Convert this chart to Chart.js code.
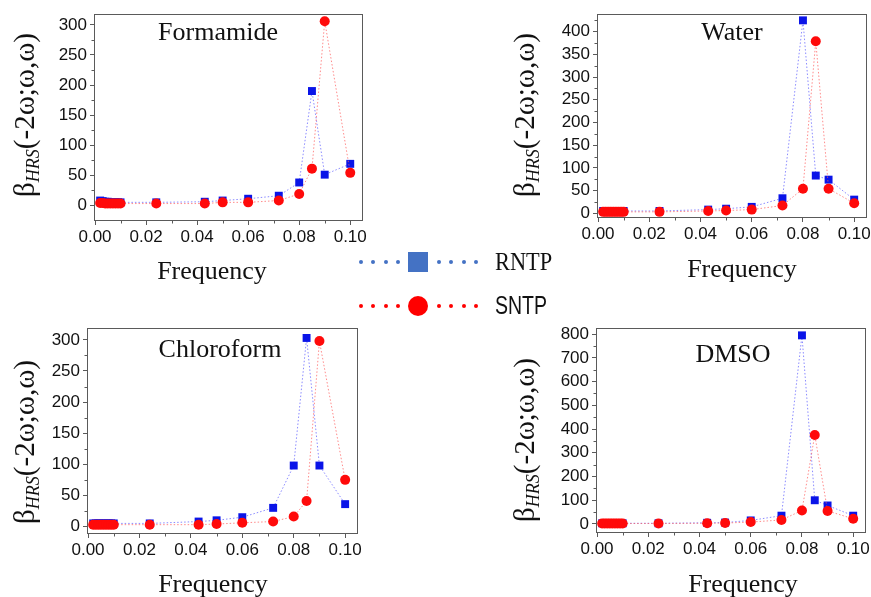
<!DOCTYPE html>
<html>
<head>
<meta charset="utf-8">
<title>Hyper-Rayleigh scattering vs frequency</title>
<script src="https://cdn.jsdelivr.net/npm/chart.js@4.4.1/dist/chart.umd.min.js"></script>
<style>
  body { margin: 0; background: #fff; width: 871px; height: 597px; position: relative; overflow: hidden; }
  canvas { position: absolute; }
  .row { position: absolute; left: 359px; height: 22px; display: flex; align-items: center; z-index: 2; }
  .dot { width: 4px; height: 4px; border-radius: 50%; margin-right: 8.3px; }
  .mark { width: 20px; height: 20px; margin-right: 9px; }
  .label { margin-left: 9px; color: #111; transform-origin: left center; white-space: nowrap; }
</style>
</head>
<body>
<canvas id="formamide" width="435" height="300" style="left:0;top:0"></canvas>
<canvas id="water" width="470" height="300" style="left:435px;top:0"></canvas>
<canvas id="chloroform" width="435" height="297" style="left:0;top:300px"></canvas>
<canvas id="dmso" width="470" height="297" style="left:435px;top:300px"></canvas>

<div class="row" style="top:251px">
  <span class="dot" style="background:#4472c4"></span><span class="dot" style="background:#4472c4"></span>
  <span class="dot" style="background:#4472c4"></span><span class="dot" style="background:#4472c4"></span>
  <span class="mark" style="background:#4472c4"></span>
  <span class="dot" style="background:#4472c4"></span><span class="dot" style="background:#4472c4"></span>
  <span class="dot" style="background:#4472c4"></span><span class="dot" style="background:#4472c4"></span>
  <span class="label" style="font:26px 'Liberation Serif','Times New Roman',serif;transform:scaleX(0.86)">RNTP</span>
</div>
<div class="row" style="top:294.5px">
  <span class="dot" style="background:#ff0000"></span><span class="dot" style="background:#ff0000"></span>
  <span class="dot" style="background:#ff0000"></span><span class="dot" style="background:#ff0000"></span>
  <span class="mark" style="background:#ff0000;border-radius:50%"></span>
  <span class="dot" style="background:#ff0000"></span><span class="dot" style="background:#ff0000"></span>
  <span class="dot" style="background:#ff0000"></span><span class="dot" style="background:#ff0000"></span>
  <span class="label" style="font:25px 'Liberation Sans',Arial,sans-serif;transform:scaleX(0.78)">SNTP</span>
</div>

<script>
// frequencies shared by every solvent
var freq = [0.002, 0.003, 0.004, 0.005, 0.006, 0.007, 0.008, 0.009, 0.010,
            0.024, 0.043, 0.050, 0.060, 0.072, 0.080, 0.085, 0.090, 0.100];

var formamideRNTP = [8, 7, 6, 6, 5, 5, 5, 5, 5, 5, 6, 8, 11, 16, 38, 190, 51, 69];
var formamideSNTP = [4, 4, 3, 3, 3, 3, 3, 3, 3, 3, 3, 5, 5, 8, 19, 61, 306, 54];

var waterRNTP = [5, 5, 5, 5, 5, 5, 5, 5, 5, 5, 8, 10, 14, 33, 425, 83, 74, 30];
var waterSNTP = [3, 3, 3, 3, 3, 3, 3, 3, 3, 3, 5, 6, 8, 17, 54, 379, 54, 22];

var chloroformRNTP = [5, 5, 5, 5, 5, 5, 5, 5, 5, 5, 8, 10, 15, 30, 98, 303, 98, 36];
var chloroformSNTP = [3, 3, 3, 3, 3, 3, 3, 3, 3, 3, 3, 4, 6, 8, 16, 41, 298, 75];

var dmsoRNTP = [3, 3, 3, 3, 3, 3, 3, 3, 3, 3, 5, 6, 15, 35, 795, 100, 78, 35];
var dmsoSNTP = [2, 2, 2, 2, 2, 2, 2, 2, 2, 2, 3, 4, 8, 17, 57, 375, 55, 22];

var xTicks = [0, 0.02, 0.04, 0.06, 0.08, 0.10];
var yTicks300 = [0, 50, 100, 150, 200, 250, 300];
var yTicks400 = [0, 50, 100, 150, 200, 250, 300, 350, 400];
var yTicks800 = [0, 100, 200, 300, 400, 500, 600, 700, 800];

var SERIF = "'Liberation Serif', 'Times New Roman', serif";
var SANS = "'Liberation Sans', Arial, sans-serif";
var FRAME = '#5a5a5a';

function toPoints(values) {
  return values.map(function (v, i) { return { x: freq[i], y: v }; });
}

// frame, minor ticks, panel name and axis titles
var panelDecor = {
  id: 'panelDecor',
  afterDraw: function (chart, args, o) {
    var ctx = chart.ctx;
    var a = chart.chartArea;
    var xs = chart.scales.x, ys = chart.scales.y;
    var v, p;
    ctx.save();
    ctx.strokeStyle = FRAME;
    ctx.lineWidth = 1;
    ctx.strokeRect(Math.round(a.left) + 0.5, Math.round(a.top) + 0.5,
                   Math.round(a.right - a.left) - 1, Math.round(a.bottom - a.top) - 1);

    ctx.beginPath();
    for (v = o.xMinor; v < xs.max; v += o.xMinor * 2) {
      p = Math.round(xs.getPixelForValue(v)) + 0.5;
      ctx.moveTo(p, a.bottom);
      ctx.lineTo(p, a.bottom + 2.5);
    }
    for (v = o.yMinor; v < ys.max; v += o.yMinor * 2) {
      p = Math.round(ys.getPixelForValue(v)) + 0.5;
      ctx.moveTo(a.left, p);
      ctx.lineTo(a.left - 2.5, p);
    }
    ctx.stroke();

    ctx.fillStyle = '#111';
    ctx.textAlign = 'center';
    ctx.textBaseline = 'middle';
    ctx.font = '26px ' + SERIF;
    ctx.fillText(o.title, o.titleX, o.titleY);
    ctx.fillText('Frequency', o.xTitleX, o.xTitleY);

    // β_HRS(-2ω;ω,ω), rotated along the y axis
    ctx.translate(o.yTitleX, o.yTitleY);
    ctx.rotate(-Math.PI / 2);
    var big = '29px ' + SERIF, sub = 'italic 18px ' + SERIF;
    ctx.font = big;
    var w1 = ctx.measureText('\u03b2').width;
    var w3 = ctx.measureText('(-2\u03c9;\u03c9,\u03c9)').width;
    ctx.font = sub;
    var w2 = ctx.measureText('HRS').width;
    var x0 = -(w1 + w2 + w3) / 2;
    ctx.textAlign = 'left';
    ctx.textBaseline = 'alphabetic';
    ctx.font = big;
    ctx.fillText('\u03b2', x0, 9);
    ctx.font = sub;
    ctx.fillText('HRS', x0 + w1, 14);
    ctx.font = big;
    ctx.fillText('(-2\u03c9;\u03c9,\u03c9)', x0 + w1 + w2, 9);
    ctx.restore();
  }
};

function showPanel(id, box, deco, rntp, sntp, yTicks, yMin, yMax) {
  var canvas = document.getElementById(id);
  return new Chart(canvas, {
    type: 'line',
    data: {
      datasets: [
        {
          label: 'RNTP',
          data: toPoints(rntp),
          order: 1,
          borderColor: 'rgba(90,90,255,0.7)',
          borderWidth: 1,
          borderDash: [1.5, 2],
          pointStyle: 'rect',
          pointRadius: 5.6,
          pointBorderWidth: 0,
          pointBackgroundColor: '#0a14e8'
        },
        {
          label: 'SNTP',
          data: toPoints(sntp),
          order: 0,
          borderColor: 'rgba(255,90,90,0.7)',
          borderWidth: 1,
          borderDash: [1.5, 2],
          pointStyle: 'circle',
          pointRadius: 5,
          pointBorderWidth: 0,
          pointBackgroundColor: '#ff0a0a'
        }
      ]
    },
    options: {
      responsive: false,
      animation: false,
      layout: { padding: { top: box.top, right: canvas.width - box.right, left: 0, bottom: 0 } },
      plugins: {
        legend: { display: false },
        tooltip: { enabled: false },
        panelDecor: deco
      },
      scales: {
        x: {
          type: 'linear',
          min: -0.0004,
          max: 0.105,
          afterBuildTicks: function (s) { s.ticks = xTicks.map(function (v) { return { value: v }; }); },
          afterFit: function (s) { s.height = canvas.height - box.bottom; },
          border: { display: false },
          grid: { drawOnChartArea: false, drawTicks: true, tickLength: 4, color: FRAME },
          ticks: {
            autoSkip: false,
            maxRotation: 0,
            padding: 2,
            color: '#111',
            font: { family: SANS, size: 17 },
            callback: function (v) { return v.toFixed(2); }
          }
        },
        y: {
          min: yMin,
          max: yMax,
          afterBuildTicks: function (s) { s.ticks = yTicks.map(function (v) { return { value: v }; }); },
          afterFit: function (s) { s.width = box.left; },
          border: { display: false },
          grid: { drawOnChartArea: false, drawTicks: true, tickLength: 4, color: FRAME },
          ticks: {
            padding: 3,
            color: '#111',
            font: { family: SANS, size: 17 }
          }
        }
      }
    },
    plugins: [panelDecor]
  });
}

// plot boxes are in each canvas's own coordinates
showPanel('formamide',
  { left: 94, top: 14, right: 363, bottom: 221 },
  { title: 'Formamide', titleX: 218, titleY: 33, xTitleX: 212, xTitleY: 272, yTitleX: 25, yTitleY: 115, xMinor: 0.01, yMinor: 25 },
  formamideRNTP, formamideSNTP, yTicks300, -26, 318);

showPanel('water',
  { left: 162, top: 14, right: 432, bottom: 218 },
  { title: 'Water', titleX: 297, titleY: 33, xTitleX: 307, xTitleY: 270, yTitleX: 90, yTitleY: 115, xMinor: 0.01, yMinor: 25 },
  waterRNTP, waterSNTP, yTicks400, -10.5, 439);

showPanel('chloroform',
  { left: 87, top: 28, right: 358, bottom: 234 },
  { title: 'Chloroform', titleX: 220, titleY: 50, xTitleX: 213, xTitleY: 285, yTitleX: 25, yTitleY: 142, xMinor: 0.01, yMinor: 25 },
  chloroformRNTP, chloroformSNTP, yTicks300, -12, 319);

showPanel('dmso',
  { left: 161, top: 28, right: 431, bottom: 233 },
  { title: 'DMSO', titleX: 298, titleY: 55, xTitleX: 308, xTitleY: 285, yTitleX: 90, yTitleY: 140, xMinor: 0.01, yMinor: 50 },
  dmsoRNTP, dmsoSNTP, yTicks800, -38, 826);
</script>
</body>
</html>
